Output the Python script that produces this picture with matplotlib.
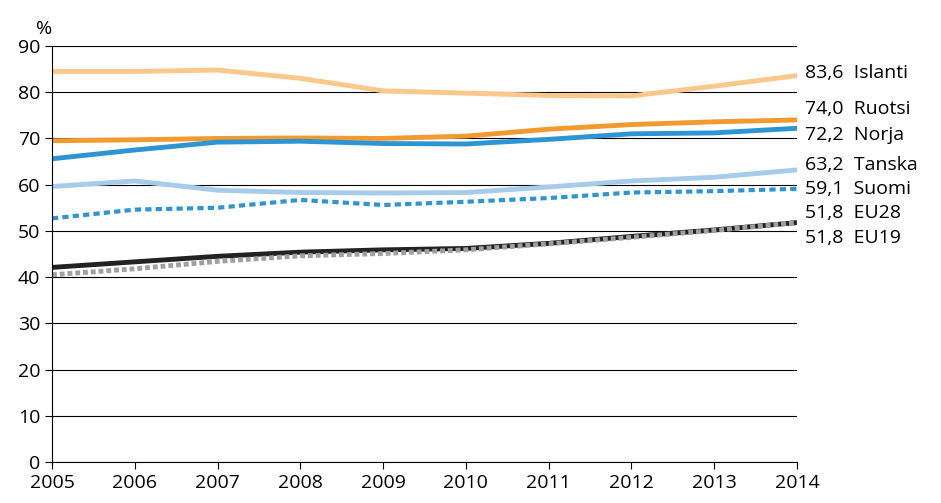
import matplotlib.pyplot as plt

years = list(range(2005, 2015))
islanti = [84.5, 84.5, 84.8, 83.0, 80.3, 79.8, 79.3, 79.2, 81.3, 83.6]
ruotsi = [69.5, 69.7, 70.0, 70.1, 70.0, 70.5, 72.0, 73.0, 73.6, 74.0]
norja = [65.6, 67.5, 69.2, 69.4, 68.9, 68.8, 69.8, 71.0, 71.2, 72.2]
tanska = [59.6, 60.8, 58.8, 58.3, 58.2, 58.3, 59.5, 60.8, 61.6, 63.2]
suomi = [52.7, 54.6, 55.0, 56.7, 55.6, 56.3, 57.1, 58.3, 58.6, 59.1]
eu28 = [42.1, 43.3, 44.5, 45.4, 45.9, 46.2, 47.3, 48.8, 50.2, 51.8]
eu19 = [40.5, 41.8, 43.4, 44.6, 45.1, 45.9, 47.2, 48.6, 50.1, 51.8]

labels = ['83,6  Islanti', '74,0  Ruotsi', '72,2  Norja', '63,2  Tanska',
          '59,1  Suomi', '51,8  EU28', '51,8  EU19']
label_y = [84.2, 76.4, 70.8, 64.3, 59.1, 53.9, 48.5]

plt.rcParams['font.family'] = ['Open Sans', 'DejaVu Sans']
fig = plt.figure(figsize=(9.41, 5.03), dpi=100)
ax = fig.add_axes([52/941, 41/503, 745/941, 416/503])

ax.yaxis.grid(True, color='black', linewidth=0.8)
ax.set_axisbelow(True)

ax.plot(years, islanti, color='#F9C88A', lw=3.5)
ax.plot(years, ruotsi, color='#F39A2E', lw=3.5)
ax.plot(years, norja, color='#2D95D3', lw=3.5)
ax.plot(years, tanska, color='#A6CBEB', lw=3.5)
ax.plot(years, suomi, color='#2D95D3', lw=3, ls=(0, (1.5, 1)))
ax.plot(years, eu28, color='#222222', lw=3.5)
ax.plot(years, eu19, color='#A0A0A0', lw=3.5, ls=(0, (1, 0.6)))

for t, y in zip(labels, label_y):
    ax.text(2014.1, y, t, fontsize=14, va='center', ha='left')

ax.set_xlim(2005, 2014)
ax.set_ylim(0, 90)
ax.set_xticks(years)
ax.set_yticks(range(0, 91, 10))
ax.tick_params(labelsize=14, length=5, color='black')
for s in ['top', 'right']:
    ax.spines[s].set_visible(False)
ax.text(-0.01, 1.02, '%', transform=ax.transAxes, fontsize=14, ha='center', va='bottom')

fig.savefig('out.png', dpi=100)
